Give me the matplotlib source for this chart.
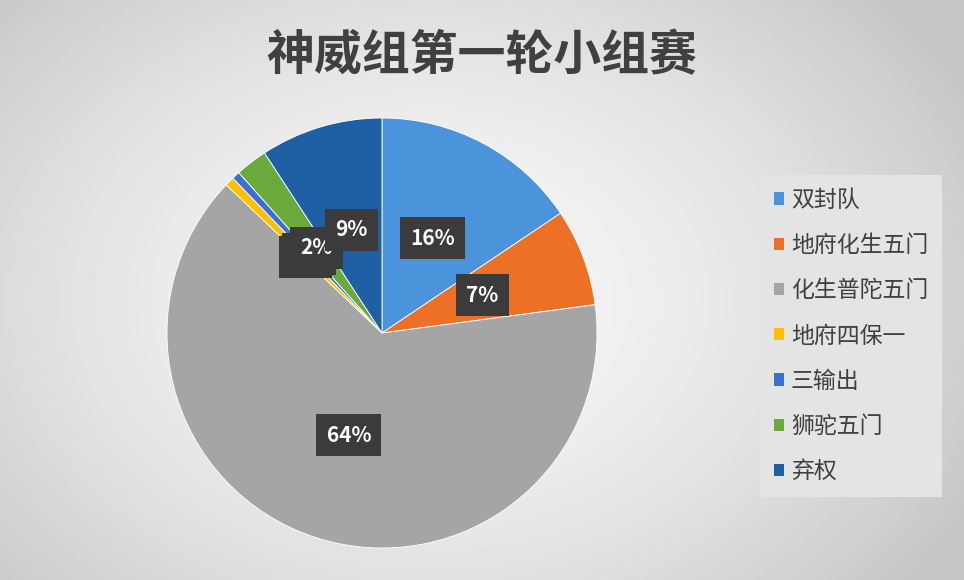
import numpy as np
import matplotlib
matplotlib.use('Agg')
import matplotlib.pyplot as plt
from matplotlib.patches import Patch

plt.rcParams['font.family'] = ['Noto Sans CJK SC', 'DejaVu Sans']

teams = ['双封队', '地府化生五门', '化生普陀五门', '地府四保一', '三输出', '狮驼五门', '弃权']
shares = [15.6, 7.3, 64.2, 0.7, 0.6, 2.4, 9.2]
colors = ['#4b94dc', '#ed7027', '#a5a5a5', '#ffc000', '#3a6fd8', '#6aaa3c', '#1f5fa3']
title = '神威组第一轮小组赛'

W, H = 964, 580
fig = plt.figure(figsize=(W / 100, H / 100), dpi=100)

# radial grey background
bg = fig.add_axes([0, 0, 1, 1], zorder=-10)
yy, xx = np.mgrid[0:H, 0:W]
r = np.sqrt(((xx - 430) / 560) ** 2 + ((yy - 300) / 420) ** 2)
shade = np.clip(0.97 - 0.17 * r ** 1.6, 0.78, 0.97)
bg.imshow(shade, cmap='gray', vmin=0, vmax=1, aspect='auto', interpolation='bilinear')
bg.axis('off')

# pie
cx, cy, rad = 382, 333, 215
ax = fig.add_axes([(cx - rad) / W, (H - cy - rad) / H, 2 * rad / W, 2 * rad / H])
wedges, _, autotexts = ax.pie(
    shares, colors=colors, startangle=90, counterclock=False,
    autopct=lambda p: f'{p:.0f}%', pctdistance=0.5,
    wedgeprops=dict(linewidth=0.6, edgecolor='white'),
    textprops=dict(color='white', fontsize=15, fontweight='bold'))
for t in autotexts:
    t.set_bbox(dict(boxstyle='square,pad=0.5', facecolor='#3b3b3b', edgecolor='none'))
ax.set_xlim(-1, 1)
ax.set_ylim(-1, 1)

fig.text(0.5, 1 - 56 / H, title, ha='center', va='center', fontsize=34.5,
         fontweight='bold', color='#404040')

handles = [Patch(facecolor=c, edgecolor='none') for c in colors]
leg = fig.legend(handles, teams, loc='upper left',
                 bbox_to_anchor=(760 / W, 1 - 175 / H),
                 fontsize=16.5, frameon=True, fancybox=False,
                 handlelength=0.45, handleheight=0.45, handletextpad=0.3,
                 labelspacing=0.97, borderpad=0.6, borderaxespad=0)
leg.get_frame().set_facecolor('#e4e4e4')
leg.get_frame().set_edgecolor('none')
leg.get_frame().set_alpha(1)
for t in leg.get_texts():
    t.set_color('#404040')

fig.savefig('out.png', dpi=100)
